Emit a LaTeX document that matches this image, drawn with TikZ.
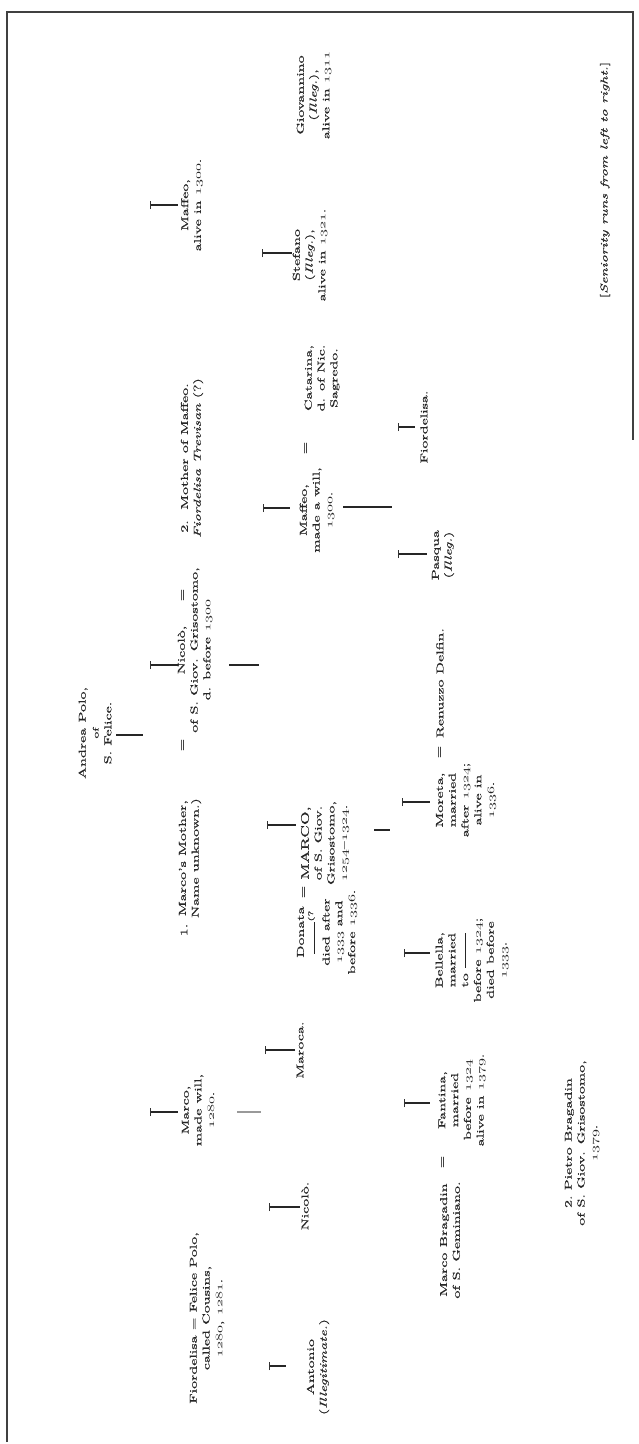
\documentclass[tikz,border=0pt]{standalone}
\usepackage{fontspec}
\setmainfont{Latin Modern Roman}[UprightFeatures={FakeBold=0.4},ItalicFeatures={FakeBold=0.4}]
\newcommand{\os}[1]{{\usefont{OML}{cmm}{m}{it}#1}}
\begin{document}
\begin{tikzpicture}[x=1pt,y=-1pt,
  gt/.style={rotate=90, align=center, inner sep=0pt, xscale=1.6, font=\fontsize{10}{12.8}\selectfont, text=black!85},
  eqs/.style={rotate=90, inner sep=0pt, xscale=1.6, font=\fontsize{10}{12}\selectfont, text=black!85},
  conn/.style={line width=1.2pt, black!85},
  tick/.style={line width=0.8pt, black!80},
  frame/.style={line width=1.4pt, black!75}]
\useasboundingbox (0,0) rectangle (639,1444);
\fill[white] (0,0) rectangle (639,1444);
% frame
\coordinate (fTL) at (7,12); \coordinate (fTR) at (633,12);
\coordinate (fBL) at (7,1442); \coordinate (fRB) at (633,440);
\draw[frame] (fBL) -- (fTL) -- (fTR) -- (fRB);

% generation 0
\node[gt] (andrea) at (95,733) {Andrea Polo,\\ {\footnotesize of}\\ S. Felice.};

% generation 1
\node[gt] (maffeoA) at (192,205) {Maffeo,\\ alive in \os{1300}.};
\node[gt] (mother2) at (192,458) {2.\ \ Mother of Maffeo.\\ \textit{Fiordelisa Trevisan} (?)};
\node[gt] (nicolo) at (195,650) {Nicolò,\\ of S. Giov. Grisostomo,\\ d. before \os{1300}};
\node[eqs] (eqN1) at (183,745) {=};
\node[eqs] (eqN2) at (183,595) {=};
\node[gt] (mother1) at (190,858) {Marco's Mother,\\ Name unknown.)};
\node[eqs] (one) at (184,930) {1.};
\node[gt] (marcoA) at (198,1110) {Marco,\\ made will,\\ \os{1280}.};
\node[gt] (fiorA) at (207,1318) {Fiordelisa = Felice Polo,\\ called Cousins,\\ \os{1280}, \os{1281}.};

% generation 2
\node[gt] (giov) at (314,95) {Giovannino\\ (\textit{Illeg.}),\\ alive in \os{1311}};
\node[gt] (stef) at (310,255) {Stefano\\ (\textit{Illeg.}),\\ alive in \os{1321}.};
\node[gt] (catar) at (322,378) {Catarina,\\ d. of Nic.\\ Sagredo.};
\node[eqs] (eqC) at (306,448) {=};
\node[gt] (maffeoB) at (317,510) {Maffeo,\\ made a will,\\ \os{1300}.};
\node[gt] (marcoB) at (325,843) {{\fontsize{11}{12.8}\selectfont MARCO,}\\ of S. Giov.\\ Grisostomo,\\ \os{1254}--\os{1324}.};
\node[eqs] (eqM) at (304,892) {=};
\node[gt] (donata) at (327,932) {Donata\\ \rule[0.3ex]{2em}{1pt}\raisebox{0.8ex}{\scriptsize(?}\\ died after\\ \os{1333} and\\ before \os{1336}.};
\node[gt] (maroca) at (300,1050) {Maroca.};
\node[gt] (nicoloB) at (305,1206) {Nicolò.};
\node[gt] (antonio) at (318,1367) {Antonio\\ (\textit{Illegitimate.})};

% generation 3
\node[gt] (fiorB) at (424,427) {Fiordelisa.};
\node[gt] (pasqua) at (443,555) {Pasqua\\ (\textit{Illeg.})};
\node[gt] (renuzzo) at (440,683) {Renuzzo Delfin.};
\node[eqs] (eqR) at (440,752) {=};
\node[gt] (moreta) at (466,800) {Moreta,\\ married\\ after \os{1324};\\ alive in\\ \os{1336}.};
\node[gt] (bell) at (472,960) {Bellella,\\ married\\ to \rule[0.4ex]{2.2em}{1pt}\\ before \os{1324};\\ died before\\ \os{1333}.};
\node[gt] (fantina) at (462,1100) {Fantina,\\ married\\ before \os{1324}\\ alive in \os{1379}.};
\node[eqs] (eqF) at (443,1162) {=};
\node[gt] (brag) at (450,1240) {Marco Bragadin\\ of S. Geminiano.};
\node[gt] (pietro) at (582,1143) {2.\ Pietro Bragadin\\ of S. Giov. Grisostomo,\\ \os{1379}.};

\node[gt] (senior) at (605,180) {[\textit{Seniority runs from left to right.}]};

% connectors
\coordinate (a1) at (116,735); \coordinate (a2) at (143,735);
\draw[conn, line width=1.6pt] (a1) -- (a2);
% gen 1 drops
\foreach \n/\yy in {dMA/205, dNi/665, dMa/1112}{
  \coordinate (\n l) at (150,\yy); \coordinate (\n r) at (178,\yy);
  \draw[conn] (\n l) -- (\n r);
  \draw[tick] ([yshift=-4pt]\n l) -- ([yshift=4pt]\n l);
}
% gen 2 parent lines
\coordinate (pN1) at (229,665); \coordinate (pN2) at (259,665);
\draw[conn] (pN1) -- (pN2);
\coordinate (pM1) at (237,1112); \coordinate (pM2) at (261,1112);
\draw[conn, black!40] (pM1) -- (pM2);
% gen 2 drops
\foreach \n/\yy/\xa/\xb in {dSt/253/262/292, dMB/508/263/290, dMC/825/267/296, dMr/1050/265/295, dNB/1207/269/300, dAn/1366/269/286}{
  \coordinate (\n l) at (\xa,\yy); \coordinate (\n r) at (\xb,\yy);
  \draw[conn] (\n l) -- (\n r);
  \draw[tick] ([yshift=-4pt]\n l) -- ([yshift=4pt]\n l);
}
% gen 3 parent lines
\coordinate (pF1) at (343,507); \coordinate (pF2) at (392,507);
\draw[conn] (pF1) -- (pF2);
\coordinate (pD1) at (374,830); \coordinate (pD2) at (390,830);
\draw[conn] (pD1) -- (pD2);
% gen 3 drops
\foreach \n/\yy/\xa/\xb in {dFi/427/398/415, dPa/554/398/427, dMo/802/402/430, dBe/953/404/430, dFa/1103/404/430}{
  \coordinate (\n l) at (\xa,\yy); \coordinate (\n r) at (\xb,\yy);
  \draw[conn] (\n l) -- (\n r);
  \draw[tick] ([yshift=-4pt]\n l) -- ([yshift=4pt]\n l);
}
\end{tikzpicture}
\end{document}
